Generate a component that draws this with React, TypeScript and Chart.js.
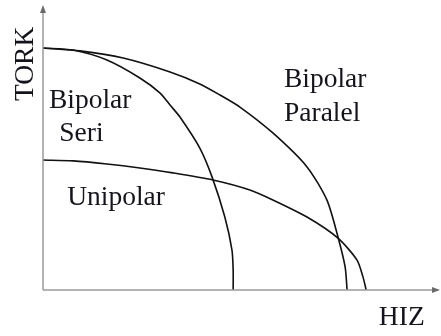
import React, { useEffect, useRef } from "react";
import { Chart, registerables } from "chart.js";

Chart.register(...registerables);

// Speed (HIZ) vs torque (TORK), in percent of axis length
const seriX = [0, 7.6, 16.1, 24.4, 29.5, 32.0, 34.5, 39.5, 42.6, 45.8, 47.6, 47.9, 47.9];
const seriY = [84.9, 84.2, 80.7, 74.4, 69.1, 64.9, 60.7, 49.8, 39.6, 25.6, 14.0, 7.0, 0];

const paralelX = [0, 9.3, 20.2, 32.0, 39.5, 44.6, 49.6, 57.9, 66.5, 71.5, 74.3, 76.1, 76.6];
const paralelY = [84.9, 83.9, 81.4, 76.5, 72.3, 68.4, 64.2, 55.1, 43.2, 31.6, 18.6, 8.1, 0];

const unipolarX = [0, 7.6, 16.1, 24.4, 32.7, 42.8, 52.1, 57.9, 66.5, 74.3, 79.1, 80.6, 81.4];
const unipolarY = [45.6, 45.3, 44.2, 42.8, 41.1, 38.6, 35.1, 31.6, 25.6, 18.2, 10.5, 4.6, 0];

const seriesNames = ["Bipolar Seri", "Bipolar Paralel", "Unipolar"];
const xTitle = "HIZ";
const yTitle = "TORK";

const toPoints = (xs: number[], ys: number[]) => xs.map((x, i) => ({ x, y: ys[i] }));

const FONT = '27.5px "Liberation Serif", "Times New Roman", serif';
const TEXT = "#14141e";

const overlay = {
  id: "overlay",
  afterDraw(chart: any) {
    const { ctx, chartArea, scales } = chart;
    const { left, right, top, bottom } = chartArea;
    ctx.save();
    // axes
    ctx.strokeStyle = "#9a9a9a";
    ctx.fillStyle = "#6a6a6a";
    ctx.lineWidth = 1.5;
    ctx.beginPath();
    ctx.moveTo(left, bottom);
    ctx.lineTo(left, top + 2);
    ctx.moveTo(left, bottom);
    ctx.lineTo(right - 2, bottom);
    ctx.stroke();
    // arrowheads
    ctx.beginPath();
    ctx.moveTo(left, top);
    ctx.lineTo(left - 3, top + 8);
    ctx.lineTo(left + 3, top + 8);
    ctx.closePath();
    ctx.fill();
    ctx.beginPath();
    ctx.moveTo(right, bottom);
    ctx.lineTo(right - 8, bottom - 3);
    ctx.lineTo(right - 8, bottom + 3);
    ctx.closePath();
    ctx.fill();

    // labels
    const X = (v: number) => scales.x.getPixelForValue(v);
    const Y = (v: number) => scales.y.getPixelForValue(v);
    ctx.font = FONT;
    ctx.fillStyle = TEXT;
    ctx.textAlign = "left";
    ctx.textBaseline = "alphabetic";
    const [seri, paralel, uni] = seriesNames.map((s) => s.split(" "));
    ctx.fillText(seri[0], X(1.5), Y(63.9));
    ctx.fillText(seri[1], X(4.1), Y(52.3));
    ctx.fillText(paralel[0], X(60.7), Y(71.2));
    ctx.fillText(paralel[1], X(60.7), Y(59.3));
    ctx.fillText(uni[0], X(6.1), Y(29.8));
    ctx.fillText(xTitle, X(84.6), bottom + 35);
    ctx.save();
    ctx.translate(left - 10, Y(66.3));
    ctx.rotate(-Math.PI / 2);
    ctx.fillText(yTitle, 0, 0);
    ctx.restore();
    ctx.restore();
  },
};

export default function App() {
  const ref = useRef<HTMLCanvasElement | null>(null);
  useEffect(() => {
    if (!ref.current) return;
    const line = { borderColor: "#111", borderWidth: 1.6, pointRadius: 0, tension: 0.25, clip: false as any, fill: false };
    const chart = new Chart(ref.current, {
      type: "scatter",
      data: {
        datasets: [
          { label: seriesNames[0], data: toPoints(seriX, seriY), showLine: true, ...line },
          { label: seriesNames[1], data: toPoints(paralelX, paralelY), showLine: true, ...line },
          { label: seriesNames[2], data: toPoints(unipolarX, unipolarY), showLine: true, ...line },
        ],
      },
      options: {
        responsive: false,
        animation: false,
        devicePixelRatio: 1,
        layout: { padding: { left: 43, right: 1, top: 5, bottom: 46 } },
        plugins: { legend: { display: false }, tooltip: { enabled: false } },
        scales: {
          x: { type: "linear", min: 0, max: 100, display: false },
          y: { type: "linear", min: 0, max: 100, display: false },
        },
      },
      plugins: [overlay],
    });
    return () => chart.destroy();
  }, []);
  return (
    <div style={{ position: "absolute", left: 0, top: 0, width: 441, height: 336, background: "#fff" }}>
      <canvas ref={ref} width={441} height={336} style={{ width: 441, height: 336 }} />
    </div>
  );
}
